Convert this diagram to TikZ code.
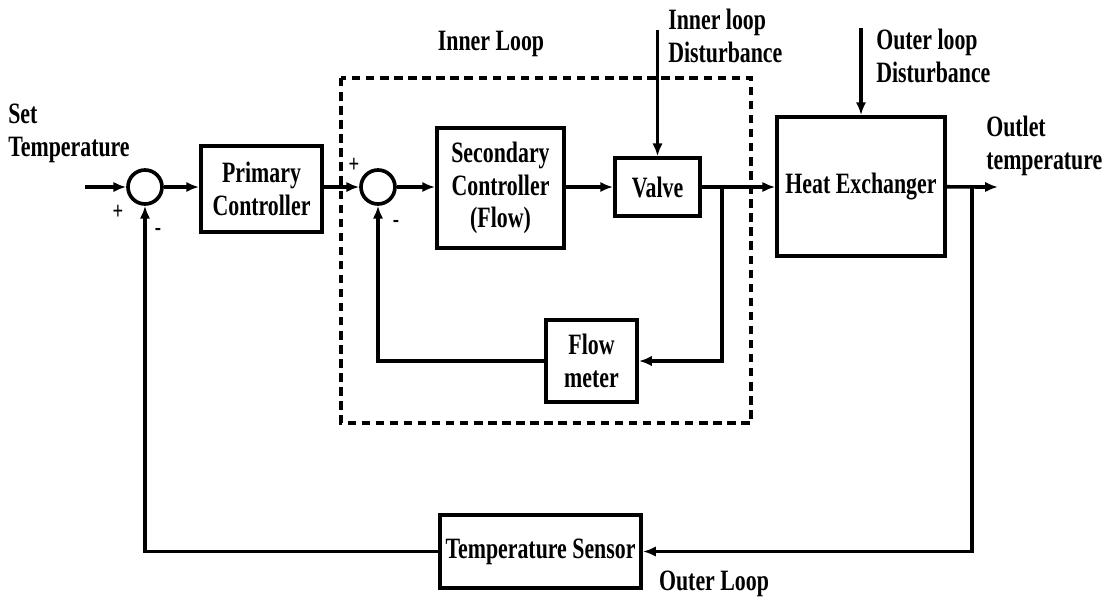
\documentclass[tikz,border=0pt]{standalone}
\usepackage{fontspec}
\setmainfont{Liberation Serif}[FakeStretch=0.74]
\usetikzlibrary{arrows.meta,positioning,calc}
\tikzset{
  blk/.style={draw, line width=2.6pt, align=center, inner sep=1pt,
              font=\bfseries\fontsize{21}{23}\selectfont},
  sumnode/.style={draw, circle, line width=2.6pt, minimum size=0.85cm, inner sep=0pt},
  arr/.style={-{Latex[length=3.2mm,width=2.6mm]}, line width=2.6pt},
  loopbox/.style={line width=2.8pt, dash pattern=on 6pt off 4pt},
  lbl/.style={font=\bfseries\fontsize{21}{23}\selectfont, inner sep=0pt},
  sgn/.style={font=\bfseries\fontsize{18}{20}\selectfont, inner sep=0pt},
}
\begin{document}
\begin{tikzpicture}[x=0.025cm, y=-0.025cm]
  \useasboundingbox (0,0) rectangle (1112,600);
  % forward path
  \coordinate (inp) at (85,187);
  \node[sumnode] (sumA) at (145,187) {};
  \node[blk, minimum width=3.03cm, minimum height=2.15cm] (prim) at (261.5,189) {Primary\\Controller};
  \node[sumnode] (sumB) at (378,187) {};
  \node[blk, minimum width=3.18cm, minimum height=3.0cm] (sec) at (500.5,188) {Secondary\\Controller\\(Flow)};
  \node[blk, minimum width=2.13cm, minimum height=1.45cm] (valve) at (657.5,187) {Valve};
  \node[blk, minimum width=4.2cm, minimum height=3.48cm] (hx) at (861,186.5) {Heat Exchanger};
  \coordinate (out) at (998,187);
  \coordinate (brA) at (722,187);
  \coordinate (brB) at (972,187);
  % feedback blocks
  \node[blk, minimum width=2.28cm, minimum height=2.05cm] (flow) at (591.5,361) {Flow\\meter};
  \node[blk, minimum width=5.03cm, minimum height=1.83cm] (tsens) at (540.5,551.5) {Temperature Sensor};
  % disturbances
  \coordinate (dIn) at (657.5,30);
  \coordinate (dOut) at (861,28);

  \draw[loopbox] (341,78) rectangle (751,423);

  \draw[arr] (inp) -- (sumA);
  \draw[arr] (sumA) -- (sumA -| prim.west);
  \draw[arr] (prim.east |- sumB) -- (sumB);
  \draw[arr] (sumB) -- (sumB -| sec.west);
  \draw[arr] (sec.east |- valve) -- (valve);
  \draw[arr] (valve) -- (valve -| hx.west);
  \draw[arr] (hx) -- (out);
  \draw[arr] (brA) |- (flow.east);
  \draw[arr] (flow.west) -| (sumB.south);
  \draw[arr] (brB) |- (tsens.east);
  \draw[arr] (tsens.west) -| (sumA.south);
  \draw[arr] (dIn) -- (valve.north);
  \draw[arr] (dOut) -- (hx.north);

  % labels
  \node[lbl, anchor=north west, align=left] (setT) at (8,104) {Set\\Temperature};
  \node[lbl] (innerL) at (491,44) {Inner Loop};
  \node[lbl, anchor=west, align=left] (dInL) at (668,36) {Inner loop\\Disturbance};
  \node[lbl, anchor=west, align=left] (dOutL) at (876,56) {Outer loop\\Disturbance};
  \node[lbl, anchor=west, align=left] (outL) at (986,146) {Outlet\\temperature};
  \node[lbl] (outerL) at (714,584) {Outer Loop};
  \node[sgn] (pA) at (118,212) {+};
  \node[sgn] (mA) at (158,232) {-};
  \node[sgn] (pB) at (354,165) {+};
  \node[sgn] (mB) at (396,224) {-};
\end{tikzpicture}
\end{document}
